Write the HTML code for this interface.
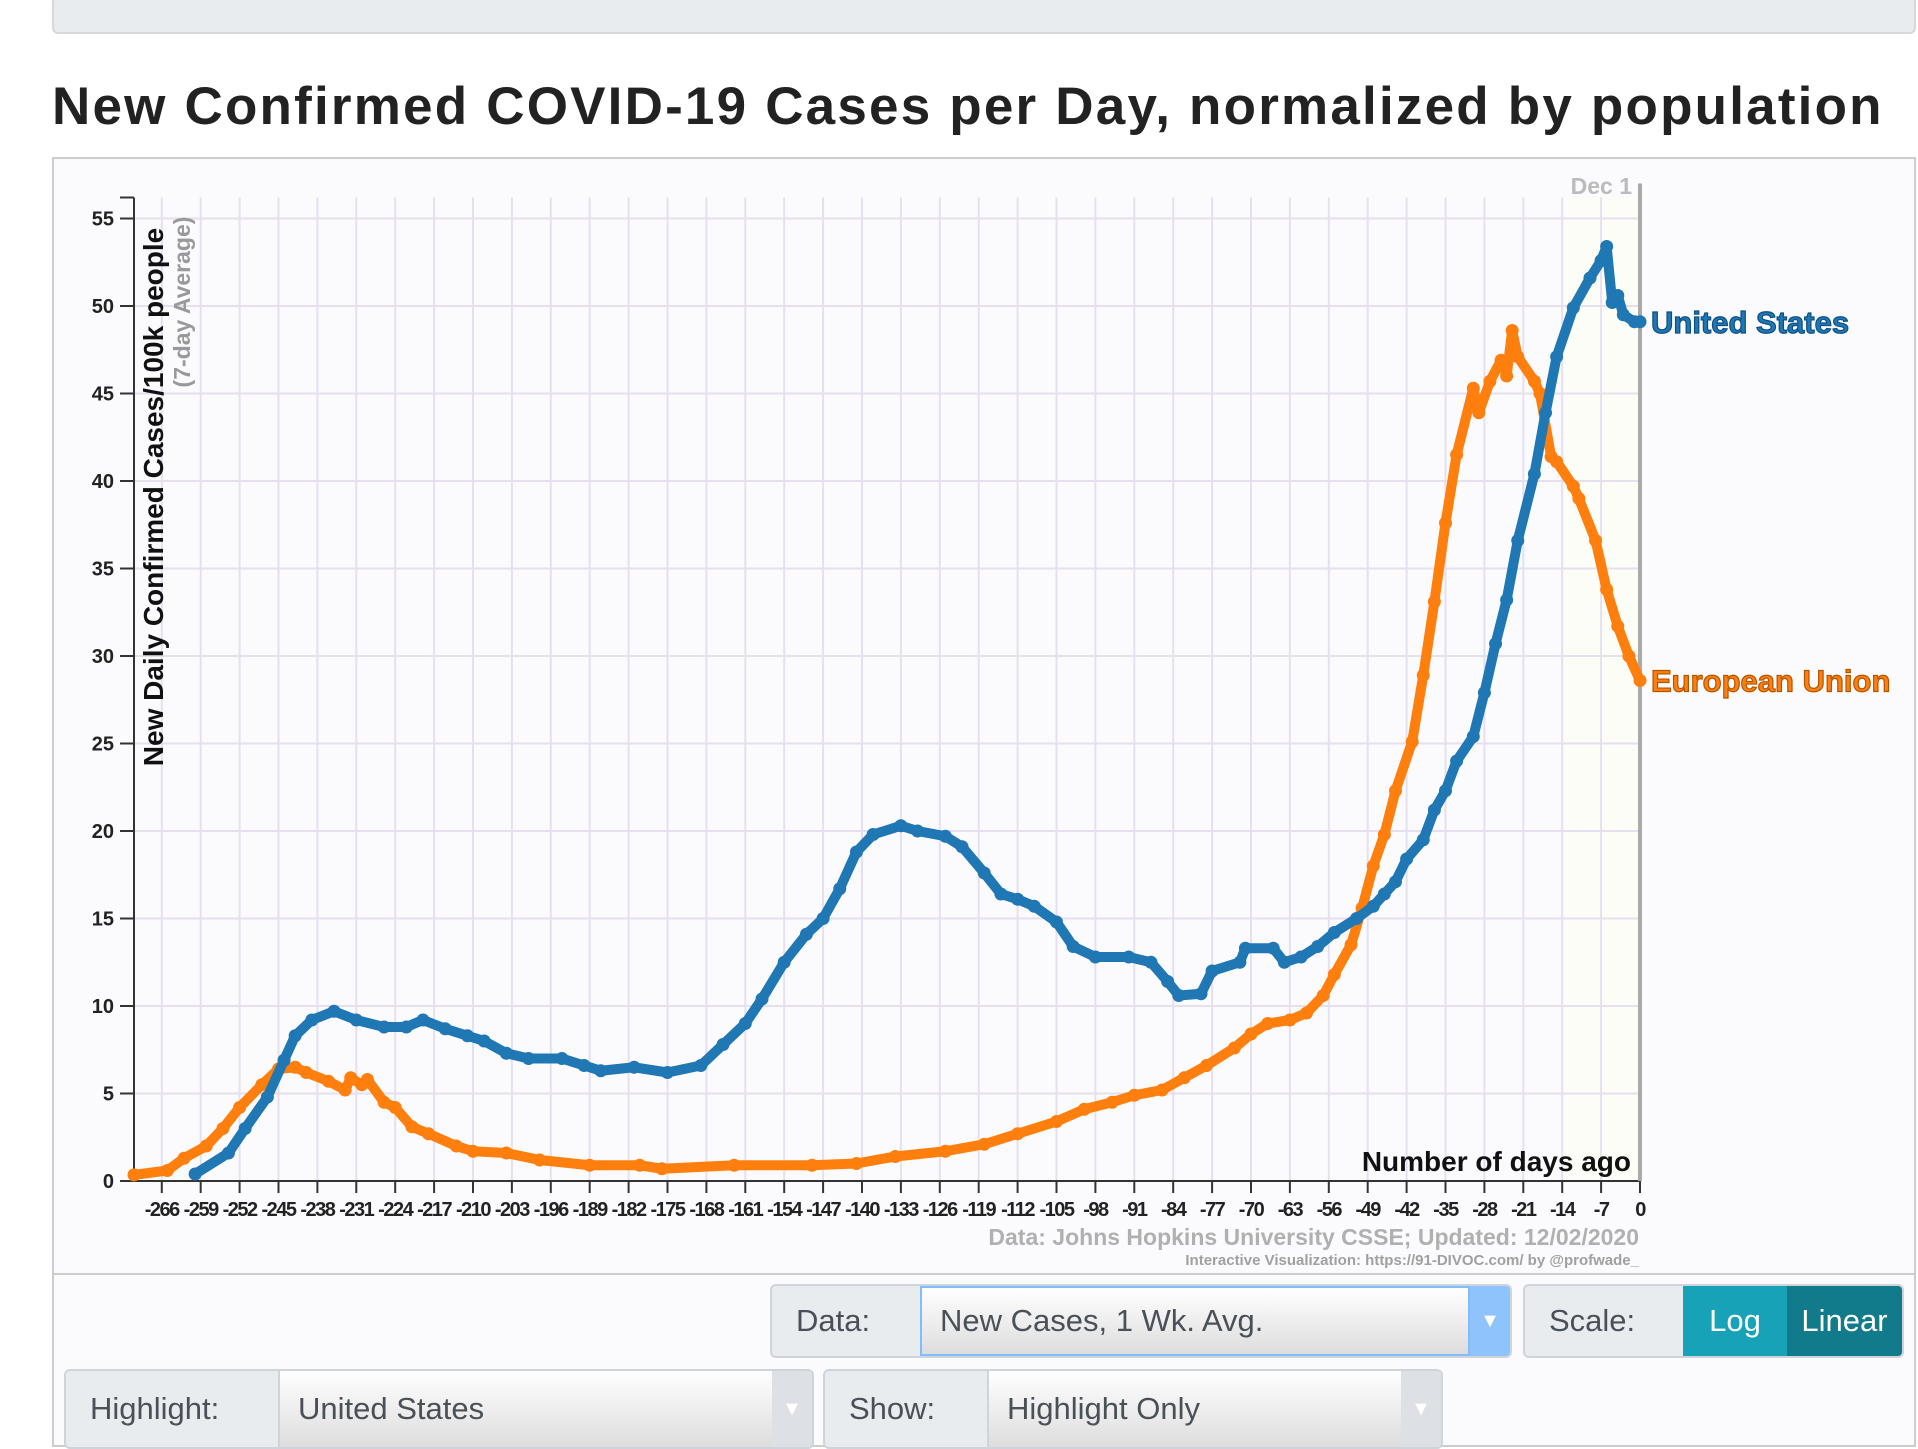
<!DOCTYPE html>
<html><head><meta charset="utf-8"><style>
body{margin:0;width:1918px;height:1437px;overflow:hidden;background:#fff;font-family:"Liberation Sans",sans-serif;position:relative}
.abs{position:absolute;box-sizing:border-box}
.grp{border:2px solid #ced4da;border-radius:6px;background:#e9ecef;display:flex;overflow:hidden}
.lbl{display:flex;align-items:center;padding-left:24px;font-size:31px;color:#495057}
.sel{flex:1;display:flex;align-items:center;padding-left:18px;font-size:31px;color:#495057;background:linear-gradient(#fff,#ddd);border-left:2px solid #ced4da}
.arr{width:40px;background:#dde1e6;display:flex;align-items:center;justify-content:center;color:#fff;font-size:20px}
</style></head><body>
<div class="abs" style="left:52px;top:-4px;width:1864px;height:38px;background:#e9ecef;border:2px solid #d6d8db;border-radius:6px"></div>
<div class="abs" style="left:52px;top:76px;font-size:53px;font-weight:bold;color:#222;letter-spacing:2.2px">New Confirmed COVID-19 Cases per Day, normalized by population</div>
<div class="abs" style="left:52px;top:157px;width:1864px;height:1290px;border:2px solid #ccc;background:#fbfbfe"></div>
<div class="abs" style="left:53px;top:1273px;width:1862px;height:2px;background:#ccc"></div>
<svg class="abs" id="chart" style="left:0;top:0" width="1918" height="1300"></svg>
<div class="abs grp" style="left:770px;top:1284px;width:742px;height:74px">
 <div class="lbl" style="width:124px">Data:</div>
 <div class="sel" style="border:2px solid #80bdff">New Cases, 1 Wk. Avg.</div>
 <div class="arr" style="background:#8fc3fb">▼</div>
</div>
<div class="abs grp" style="left:1523px;top:1284px;width:381px;height:74px">
 <div class="lbl" style="width:134px">Scale:</div>
 <div style="width:104px;background:#17a2b8;color:#fff;font-size:31px;display:flex;align-items:center;justify-content:center">Log</div>
 <div style="flex:1;background:#117a8b;color:#fff;font-size:31px;display:flex;align-items:center;justify-content:center">Linear</div>
</div>
<div class="abs grp" style="left:64px;top:1369px;width:750px;height:80px">
 <div class="lbl" style="width:188px">Highlight:</div>
 <div class="sel">United States</div>
 <div class="arr">▼</div>
</div>
<div class="abs grp" style="left:823px;top:1369px;width:620px;height:80px">
 <div class="lbl" style="width:138px">Show:</div>
 <div class="sel">Highlight Only</div>
 <div class="arr">▼</div>
</div>
<script>
const usDays=[-260,-254,-251,-247,-244,-242,-239,-235,-231,-226,-222,-219,-215,-211,-208,-204,-200,-194,-190,-187,-181,-175,-169,-165,-161,-158,-154,-150,-147,-144,-141,-138,-133,-130,-125,-122,-118,-115,-112,-109,-105,-102,-98,-92,-88,-85,-83,-79,-77,-72,-71,-66,-64,-61,-58,-55,-51,-48,-46,-44,-42,-39,-37,-35,-33,-30,-28,-26,-24,-22,-19,-17,-15,-12,-9,-7,-6,-5,-4,-3,-1,0];
const usVals=[0.4,1.6,3,4.8,6.9,8.3,9.2,9.7,9.2,8.8,8.8,9.2,8.7,8.3,8.0,7.3,7.0,7.0,6.6,6.3,6.5,6.2,6.6,7.8,9.0,10.4,12.5,14.1,15.0,16.7,18.8,19.8,20.3,20.0,19.7,19.1,17.6,16.4,16.1,15.7,14.8,13.4,12.8,12.8,12.5,11.4,10.6,10.7,12.0,12.5,13.3,13.3,12.5,12.8,13.4,14.2,15.0,15.7,16.4,17.1,18.4,19.5,21.2,22.3,24.0,25.4,27.9,30.7,33.2,36.6,40.4,43.9,47.1,49.9,51.6,52.6,53.4,50.2,50.6,49.5,49.1,49.1];
const euDays=[-271,-265,-262,-258,-255,-252,-248,-245,-242,-240,-236,-233,-232,-230,-229,-226,-224,-221,-218,-213,-210,-204,-198,-189,-180,-176,-163,-149,-141,-134,-125,-118,-112,-105,-100,-95,-91,-86,-82,-78,-73,-70,-67,-63,-60,-57,-55,-52,-50,-48,-46,-44,-41,-39,-37,-35,-33,-30,-29,-27,-25,-24,-23,-22,-19,-18,-16,-15,-12,-11,-8,-6,-4,-2,0];
const euVals=[0.35,0.6,1.3,2.0,3.0,4.2,5.5,6.4,6.5,6.2,5.7,5.2,5.9,5.5,5.8,4.5,4.2,3.1,2.7,2.0,1.7,1.6,1.2,0.9,0.9,0.7,0.9,0.9,1.0,1.4,1.7,2.1,2.7,3.4,4.1,4.5,4.9,5.2,5.9,6.6,7.6,8.4,9.0,9.2,9.6,10.6,11.8,13.5,15.6,18.0,19.8,22.3,25.1,28.9,33.1,37.6,41.5,45.3,43.9,45.7,46.9,46.0,48.6,47.1,45.7,45.0,41.4,41.1,39.7,39.0,36.6,33.8,31.7,30.0,28.6];
const yTicks=[0,5,10,15,20,25,30,35,40,45,50,55];
const xTicks=[-266,-259,-252,-245,-238,-231,-224,-217,-210,-203,-196,-189,-182,-175,-168,-161,-154,-147,-140,-133,-126,-119,-112,-105,-98,-91,-84,-77,-70,-63,-56,-49,-42,-35,-28,-21,-14,-7,0];
const X0=134,X1=1640,D0=-271,Y0=1181,PPU=17.5;
const x=d=>X0+(d-D0)*(X1-X0)/(0-D0);
const y=v=>Y0-v*PPU;
const s=document.getElementById('chart');const NS='http://www.w3.org/2000/svg';
function mk(t,a,p){const e=document.createElementNS(NS,t);for(const k in a)e.setAttribute(k,a[k]);(p||s).appendChild(e);return e;}
let e;
e=mk('rect',{x:x(-14),y:y(56.2),width:x(0)-x(-14),height:y(0)-y(56.2),fill:'#fdfdf7'});


for(const t of yTicks){e=mk('line',{x1:X0,x2:X1,y1:y(t),y2:y(t),stroke:'#e6dff0','stroke-width':2});


e=mk('line',{x1:X0-14,x2:X0,y1:y(t),y2:y(t),stroke:'#333','stroke-width':2});
e=mk('text',{x:X0-20,y:y(t)+7,'text-anchor':'end','font-size':20,'font-weight':'bold',fill:'#222'});e.textContent=t;

}
for(const t of xTicks){e=mk('line',{x1:x(t),x2:x(t),y1:y(56.2),y2:Y0,stroke:'#e6dff0','stroke-width':2});


mk('line',{x1:x(t),x2:x(t),y1:Y0,y2:Y0+12,stroke:'#333','stroke-width':2});
e=mk('text',{x:x(t),y:Y0+35,'text-anchor':'middle','font-size':20,'font-weight':'bold',fill:'#222','letter-spacing':-1.5});e.textContent=t;

}
mk('line',{x1:X0,x2:X0,y1:y(56.2),y2:Y0,stroke:'#333','stroke-width':2});
mk('line',{x1:X0-14,x2:X0,y1:y(56.2),y2:y(56.2),stroke:'#333','stroke-width':2});
mk('line',{x1:X0,x2:X1,y1:Y0,y2:Y0,stroke:'#333','stroke-width':2});
e=mk('line',{x1:x(0),x2:x(0),y1:y(57),y2:Y0,stroke:'#aaa','stroke-width':4});


e=mk('text',{x:x(0)-8,y:194,'text-anchor':'end','font-size':23,'font-weight':'bold',fill:'#bbb'});e.textContent='Dec 1';


function series(days,vals,col,name){const pts=days.map((d,i)=>x(d)+','+y(vals[i])).join(' ');
e=mk('polyline',{points:pts,fill:'none',stroke:col,'stroke-width':10,'stroke-linejoin':'round'});


days.forEach((d,i)=>{e=mk('circle',{cx:x(d),cy:y(vals[i]),r:6.5,fill:col});

});}
series(euDays,euVals,'#ff7f0e','eu');
series(usDays,usVals,'#1f77b4','us');
function lab(t,yy,col,sc,name){e=mk('text',{x:1651,y:yy,'font-size':31,'font-weight':'bold',fill:col,stroke:sc,'stroke-width':1.2});e.textContent=t;

}
lab('United States',y(49.1)+11,'#1f77b4','#0d4f80','us-label');
lab('European Union',y(28.6)+11,'#ff7f0e','#b35500','eu-label');
e=mk('text',{x:1631,y:1171,'text-anchor':'end','font-size':28,'font-weight':'bold',fill:'#111'});e.textContent='Number of days ago';


e=mk('text',{x:0,y:0,transform:'translate(163,497) rotate(-90)','text-anchor':'middle','font-size':28,'font-weight':'bold',fill:'#111'});e.textContent='New Daily Confirmed Cases/100k people';


e=mk('text',{x:0,y:0,transform:'translate(190,302) rotate(-90)','text-anchor':'middle','font-size':23,'font-weight':'bold',fill:'#999'});e.textContent='(7-day Average)';


e=mk('text',{x:1639,y:1245,'text-anchor':'end','font-size':23,'font-weight':'bold',fill:'#b0b0b0'});e.textContent='Data: Johns Hopkins University CSSE; Updated: 12/02/2020';


e=mk('text',{x:1639,y:1265,'text-anchor':'end','font-size':15,'font-weight':'bold',fill:'#a0a0a0'});e.textContent='Interactive Visualization: https://91-DIVOC.com/ by @profwade_';


</script>
</body></html>
